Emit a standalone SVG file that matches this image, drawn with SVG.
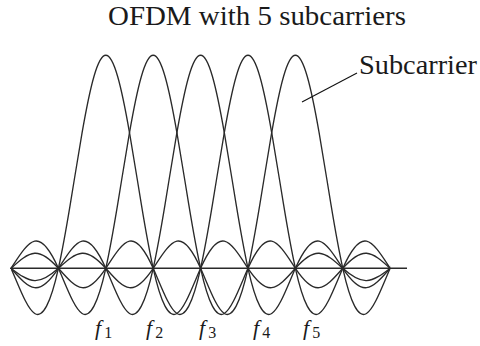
<svg xmlns="http://www.w3.org/2000/svg" width="480" height="346" viewBox="0 0 480 346">
<style>
.curve{fill:none;stroke:#2a2a2a;stroke-width:1.35;stroke-linejoin:round}
.axis{fill:none;stroke:#2a2a2a;stroke-width:1.5}
.lead{fill:none;stroke:#111;stroke-width:1.1}
.txt{font-family:"Liberation Serif","Times New Roman",serif;fill:#1a1a1a}
.lbl{font-family:"Liberation Serif","Times New Roman",serif;font-style:italic;font-size:22px;fill:#1a1a1a}
.sub{font-style:normal;font-size:16px}
</style>
<defs>
<path id="sinc" class="curve" d="M-284.4,0 C-276.5,5.917 -268.6,11.96 -260.7,12.33 C-252.8,12.7 -244.9,7.1 -237,0 C-229.1,-7.1 -221.2,-14.51 -213.3,-15.07 C-205.4,-15.63 -197.5,-8.875 -189.6,0 C-181.7,8.875 -173.8,18.45 -165.9,19.37 C-158,20.29 -150.1,11.833 -142.2,0 C-134.3,-11.833 -126.4,-25.31 -118.5,-27.12 C-110.6,-28.93 -102.7,-17.75 -94.8,0 C-86.9,17.75 -79,40.18 -71.1,45.2 C-63.2,50.22 -55.3,35.5 -47.4,0 C-43.45,-17.75 -39.5,-40.08 -35.55,-63.92 C-31.6,-87.76 -27.65,-113 -23.7,-135.6 C-19.75,-158.2 -15.8,-178.05 -11.85,-191.77 C-7.9,-205.49 -3.95,-213 0,-213 C3.95,-213 7.9,-205.49 11.85,-191.77 C15.8,-178.05 19.75,-158.2 23.7,-135.6 C27.65,-113 31.6,-87.76 35.55,-63.92 C39.5,-40.08 43.45,-17.75 47.4,0 C55.3,35.5 63.2,50.22 71.1,45.2 C79,40.18 86.9,17.75 94.8,0 C102.7,-17.75 110.6,-28.93 118.5,-27.12 C126.4,-25.31 134.3,-11.833 142.2,0 C150.1,11.833 158,20.29 165.9,19.37 C173.8,18.45 181.7,8.875 189.6,0 C197.5,-8.875 205.4,-15.63 213.3,-15.07 C221.2,-14.51 229.1,-7.1 237,0 C244.9,7.1 252.8,12.7 260.7,12.33 C268.6,11.96 276.5,5.917 284.4,0"/>
<clipPath id="span" clipPathUnits="userSpaceOnUse"><rect x="11" y="0" width="379.2" height="346"/></clipPath>
</defs>
<rect width="480" height="346" fill="#fff"/>
<g id="title"><text class="txt" x="108" y="25" font-size="27" textLength="298" lengthAdjust="spacingAndGlyphs">OFDM with 5 subcarriers</text></g>
<g id="axis"><line class="axis" x1="10" y1="268.3" x2="407" y2="268.3"/></g>
<g id="subcarriers" clip-path="url(#span)">
<use id="sc1" href="#sinc" transform="translate(105.8,268.3)"/>
<use id="sc2" href="#sinc" transform="translate(153.2,268.3)"/>
<use id="sc3" href="#sinc" transform="translate(200.6,268.3)"/>
<use id="sc4" href="#sinc" transform="translate(248,268.3)"/>
<use id="sc5" href="#sinc" transform="translate(295.4,268.3)"/>
</g>
<g id="connectors"><line class="lead" x1="302" y1="102" x2="357" y2="73"/></g>
<g id="subcarrier-label"><text class="txt" x="359" y="74" font-size="28" textLength="118" lengthAdjust="spacingAndGlyphs">Subcarrier</text></g>
<g id="freq-labels">
<text class="lbl" x="95" y="335">f<tspan class="sub" dx="3" dy="3">1</tspan></text>
<text class="lbl" x="146" y="335">f<tspan class="sub" dx="3" dy="3">2</tspan></text>
<text class="lbl" x="199" y="335">f<tspan class="sub" dx="3" dy="3">3</tspan></text>
<text class="lbl" x="253" y="335">f<tspan class="sub" dx="3" dy="3">4</tspan></text>
<text class="lbl" x="303" y="335">f<tspan class="sub" dx="3" dy="3">5</tspan></text>
</g>
</svg>
